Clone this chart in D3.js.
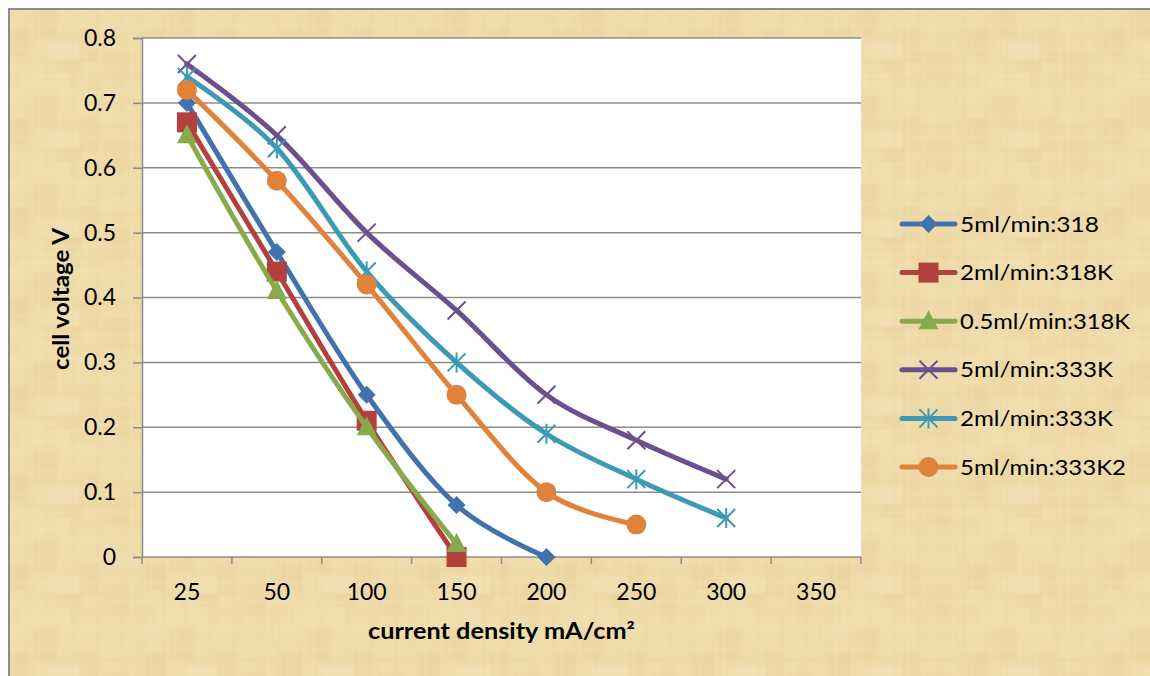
<!DOCTYPE html>
<html>
<head>
<meta charset="utf-8">
<script src="https://cdn.jsdelivr.net/npm/d3@7"></script>
<style>
  html, body { margin: 0; padding: 0; background: #ffffff; }
  svg { display: block; }
  text { font-family: Lato, "Open Sans", "Liberation Sans", sans-serif; fill: #000; }
</style>
</head>
<body>
<svg id="chart" width="1150" height="676"></svg>
<script>
// Current density categories (mA/cm²)
const categories = ["25", "50", "100", "150", "200", "250", "300", "350"];

// Cell voltage (V) per series, one value per category (null = not measured)
const s318_5ml   = [0.70, 0.47, 0.25, 0.08, 0.00, null, null, null];
const s318_2ml   = [0.67, 0.44, 0.21, 0.00, null, null, null, null];
const s318_05ml  = [0.65, 0.41, 0.20, 0.02, null, null, null, null];
const s333_5ml   = [0.76, 0.65, 0.50, 0.38, 0.25, 0.18, 0.12, null];
const s333_2ml   = [0.74, 0.63, 0.44, 0.30, 0.19, 0.12, 0.06, null];
const s333_5ml2  = [0.72, 0.58, 0.42, 0.25, 0.10, 0.05, null, null];

const seriesNames = ["5ml/min:318", "2ml/min:318K", "0.5ml/min:318K",
                     "5ml/min:333K", "2ml/min:333K", "5ml/min:333K2"];
const yTicks = [0, 0.1, 0.2, 0.3, 0.4, 0.5, 0.6, 0.7, 0.8];

const series = [
  { name: seriesNames[0], values: s318_5ml,  color: "#4272AE", marker: "diamond" },
  { name: seriesNames[1], values: s318_2ml,  color: "#B2403D", marker: "square" },
  { name: seriesNames[2], values: s318_05ml, color: "#88A94C", marker: "triangle" },
  { name: seriesNames[3], values: s333_5ml,  color: "#6B5090", marker: "x" },
  { name: seriesNames[4], values: s333_2ml,  color: "#3C9AB4", marker: "star" },
  { name: seriesNames[5], values: s333_5ml2, color: "#E0823A", marker: "circle" }
];

const svg = d3.select("#chart");
const W = 1150, H = 676;
const plot = { left: 142, right: 861, top: 38, bottom: 557 };
const FONT = "Lato, 'Open Sans', sans-serif";

// ---- parchment background ----
const defs = svg.append("defs");
const TW = 137, TH = 89;
const pat = defs.append("pattern")
  .attr("id", "parchment").attr("patternUnits", "userSpaceOnUse")
  .attr("width", TW).attr("height", TH);
pat.append("rect").attr("width", TW).attr("height", TH).attr("fill", "#EFDBA8");
const patches = [
  [0, 0, 30, 18, "#F3E2B7"], [34, 6, 22, 30, "#EAD39E"], [62, 0, 34, 20, "#F2E0B3"],
  [8, 30, 20, 26, "#E9D29C"], [44, 42, 36, 18, "#F4E4BC"], [80, 28, 16, 34, "#EBD5A1"],
  [0, 58, 40, 14, "#F1DEB0"], [58, 60, 24, 12, "#E8D19A"], [100, 8, 30, 26, "#F1DFB2"],
  [104, 50, 26, 30, "#EAD49F"], [20, 74, 50, 15, "#F3E3BA"]
];
patches.forEach(b => pat.append("rect")
  .attr("x", b[0]).attr("y", b[1]).attr("width", b[2]).attr("height", b[3])
  .attr("fill", b[4]).attr("opacity", 0.4));
const fibresV = [5, 14, 27, 39, 48, 61, 73, 86, 97, 109, 122, 131];
const fibresH = [4, 15, 26, 37, 49, 60, 68, 79];
fibresV.forEach((x, i) => pat.append("line").attr("x1", x).attr("x2", x)
  .attr("y1", 0).attr("y2", TH)
  .attr("stroke", i % 2 ? "#FBF0D2" : "#DDC58C").attr("stroke-width", 1).attr("opacity", 0.28));
fibresH.forEach((y, i) => pat.append("line").attr("y1", y).attr("y2", y)
  .attr("x1", 0).attr("x2", TW)
  .attr("stroke", i % 2 ? "#DDC58C" : "#FBF0D2").attr("stroke-width", 1).attr("opacity", 0.28));
defs.append("filter").attr("id", "soft").append("feGaussianBlur").attr("stdDeviation", 0.8);

svg.append("rect").attr("x", 9).attr("y", 9).attr("width", W).attr("height", H)
  .attr("fill", "url(#parchment)").attr("filter", "url(#soft)");
// chart area border (top and left edges)
svg.append("path").attr("d", `M9,${H} L9,9 L${W},9`)
  .attr("fill", "none").attr("stroke", "#8C8C8C").attr("stroke-width", 2);

// ---- scales ----
const x = d3.scaleBand().domain(categories).range([plot.left, plot.right]).padding(0);
const y = d3.scaleLinear().domain([0, 0.8]).range([plot.bottom, plot.top]);
const cx = c => x(c) + x.bandwidth() / 2;

// plot area
svg.append("rect").attr("x", plot.left).attr("y", plot.top)
  .attr("width", plot.right - plot.left).attr("height", plot.bottom - plot.top)
  .attr("fill", "#ffffff");

// gridlines
svg.append("g").selectAll("line").data(yTicks.filter(t => t > 0)).join("line")
  .attr("x1", plot.left).attr("x2", plot.right)
  .attr("y1", d => y(d)).attr("y2", d => y(d))
  .attr("stroke", "#8C8C8C").attr("stroke-width", 1.5);

// y axis
const yAxis = svg.append("g").attr("transform", `translate(${plot.left},0)`)
  .call(d3.axisLeft(y).tickValues(yTicks).tickSize(9).tickPadding(17)
    .tickFormat(d => d === 0 ? "0" : d3.format(".1f")(d)));
yAxis.select(".domain").attr("stroke", "#8C8C8C").attr("stroke-width", 1.5);
yAxis.selectAll(".tick line").attr("stroke", "#8C8C8C").attr("stroke-width", 1.5);
yAxis.selectAll(".tick text").attr("font-size", 23)
  .attr("font-family", FONT).attr("fill", "#000");

// x axis: category labels centred, tick marks at band edges
const xAxis = svg.append("g").attr("transform", `translate(0,${plot.bottom})`)
  .call(d3.axisBottom(x).tickSize(0));
xAxis.select(".domain").remove();
xAxis.selectAll(".tick text").attr("font-size", 23)
  .attr("font-family", FONT).attr("fill", "#000")
  .attr("y", 43).attr("dy", 0);
svg.append("line").attr("x1", plot.left).attr("x2", plot.right)
  .attr("y1", plot.bottom).attr("y2", plot.bottom)
  .attr("stroke", "#8C8C8C").attr("stroke-width", 1.5);
const edges = categories.map(c => x(c)).concat([plot.right]);
svg.append("g").selectAll("line").data(edges).join("line")
  .attr("x1", d => d).attr("x2", d => d)
  .attr("y1", plot.bottom).attr("y2", plot.bottom + 7)
  .attr("stroke", "#8C8C8C").attr("stroke-width", 1.5);

// axis titles
svg.append("text").attr("x", (plot.left + plot.right) / 2).attr("y", 639)
  .attr("text-anchor", "middle").attr("font-size", 22).attr("font-weight", "bold")
  .attr("textLength", 267).attr("lengthAdjust", "spacingAndGlyphs")
  .text("current density mA/cm²");
svg.append("text")
  .attr("transform", `translate(69,299) rotate(-90)`)
  .attr("text-anchor", "middle").attr("font-size", 22).attr("font-weight", "bold")
  .attr("textLength", 142).attr("lengthAdjust", "spacingAndGlyphs")
  .text("cell voltage V");

// ---- markers ----
function drawMarker(g, type, color, px, py) {
  if (type === "diamond") {
    g.append("path").attr("d", `M${px},${py - 9} L${px + 9},${py} L${px},${py + 9} L${px - 9},${py} Z`)
      .attr("fill", color);
  } else if (type === "square") {
    g.append("rect").attr("x", px - 10).attr("y", py - 10).attr("width", 20).attr("height", 20)
      .attr("fill", color);
  } else if (type === "triangle") {
    g.append("path").attr("d", `M${px},${py - 11} L${px + 10},${py + 8} L${px - 10},${py + 8} Z`)
      .attr("fill", color);
  } else if (type === "circle") {
    g.append("circle").attr("cx", px).attr("cy", py).attr("r", 10).attr("fill", color);
  } else if (type === "x") {
    g.append("path").attr("d", `M${px - 9},${py - 9} L${px + 9},${py + 9} M${px - 9},${py + 9} L${px + 9},${py - 9}`)
      .attr("stroke", color).attr("stroke-width", 2).attr("fill", "none");
  } else if (type === "star") {
    g.append("path").attr("d",
      `M${px - 9},${py - 9} L${px + 9},${py + 9} M${px - 9},${py + 9} L${px + 9},${py - 9} M${px},${py - 10} L${px},${py + 10}`)
      .attr("stroke", color).attr("stroke-width", 2).attr("fill", "none");
  }
}

// ---- series ----
const line = d3.line()
  .defined(d => d.v !== null)
  .x(d => cx(d.c)).y(d => y(d.v))
  .curve(d3.curveCardinal.tension(0));

series.forEach(s => {
  const pts = categories.map((c, i) => ({ c, v: s.values[i] })).filter(d => d.v !== null);
  const g = svg.append("g");
  g.append("path").datum(pts).attr("d", line)
    .attr("fill", "none").attr("stroke", s.color).attr("stroke-width", 5)
    .attr("stroke-linejoin", "round").attr("stroke-linecap", "round");
  pts.forEach(d => drawMarker(g, s.marker, s.color, cx(d.c), y(d.v)));
});

// ---- legend ----
const legendWidths = [139, 153, 170, 153, 153, 166];
const legend = svg.append("g");
series.forEach((s, i) => {
  const ly = 224 + i * 48.6;
  const g = legend.append("g");
  g.append("line").attr("x1", 902).attr("x2", 955).attr("y1", ly).attr("y2", ly)
    .attr("stroke", s.color).attr("stroke-width", 5).attr("stroke-linecap", "round");
  drawMarker(g, s.marker, s.color, 928.5, ly);
  g.append("text").attr("x", 960).attr("y", ly + 7.5).attr("font-size", 22)
    .attr("textLength", legendWidths[i]).attr("lengthAdjust", "spacingAndGlyphs")
    .text(s.name);
});
</script>
</body>
</html>
